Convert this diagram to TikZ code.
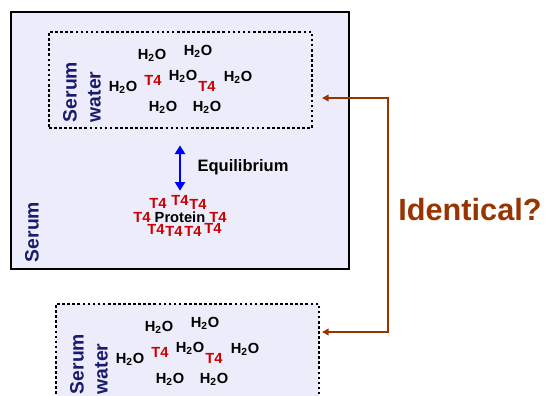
\documentclass[tikz,border=0pt]{standalone}
\usepackage{fontspec}
\setmainfont{Liberation Sans}
\usetikzlibrary{arrows.meta, fit, positioning}
\definecolor{serumfill}{RGB}{236,236,250}
\definecolor{navytxt}{RGB}{26,26,110}
\definecolor{tred}{RGB}{204,0,0}
\definecolor{eqblue}{RGB}{0,0,255}
\definecolor{idbrown}{RGB}{153,51,0}
\tikzset{
  % --- boxes -------------------------------------------------
  serumbox/.style={draw, line width=1.7pt, fill=serumfill, inner sep=0pt},
  poolbox/.style={draw, line width=2pt, dash pattern=on 2pt off 1.8pt,
    fill=serumfill, inner sep=0pt},
  % --- texts -------------------------------------------------
  sidelbl/.style={rotate=90, align=left, text=navytxt, inner sep=0pt,
    font=\fontsize{14.5}{18}\selectfont\bfseries},
  wat/.style={inner sep=0pt, font=\fontsize{11}{13}\selectfont\bfseries},
  tf/.style={inner sep=0pt, text=tred, font=\fontsize{11}{13}\selectfont\bfseries},
  eqlbl/.style={inner sep=0pt, font=\fontsize{12.4}{14}\selectfont\bfseries},
  idlbl/.style={inner sep=0pt, text=idbrown, font=\fontsize{23}{26}\selectfont\bfseries},
  % --- connectors --------------------------------------------
  eqarrow/.style={draw=eqblue, line width=2.2pt,
    {Triangle[width=7.5pt,length=6.5pt]}-{Triangle[width=7.5pt,length=6.5pt]}},
  idline/.style={draw=idbrown, line width=1.2pt,
    {Triangle[width=5pt,length=5pt]}-{Triangle[width=5pt,length=5pt]}}
}
% serum water pool, drawn twice
\newcommand\waterpool[1]{%
  \node[poolbox, fit={(49,32) (312,128)}] (#1) {};
  \node[sidelbl] (#1-lbl) at (82,92) {Serum\\water};
  \node[wat] (#1-w1) at (152,55) {H\textsubscript{2}O};
  \node[wat] (#1-w2) at (198,51) {H\textsubscript{2}O};
  \node[wat] (#1-w3) at (123,87) {H\textsubscript{2}O};
  \node[tf]  (#1-t1) at (153,80) {T4};
  \node[wat] (#1-w4) at (183,76) {H\textsubscript{2}O};
  \node[tf]  (#1-t2) at (207,86) {T4};
  \node[wat] (#1-w5) at (238,77) {H\textsubscript{2}O};
  \node[wat] (#1-w6) at (163,107) {H\textsubscript{2}O};
  \node[wat] (#1-w7) at (207,107) {H\textsubscript{2}O};
}
\begin{document}
\begin{tikzpicture}[x=0.75pt, y=-0.75pt]
  \useasboundingbox (0,0) rectangle (547,396);
  \clip (0,0) rectangle (547,396);

  % --- Serum ---------------------------------------------------
  \node[serumbox, fit={(11,12) (349,269)}] (serum) {};
  \node[sidelbl] (serumlbl) at (32,232) {Serum};

  % --- Serum water (in serum) ------------------------------------
  \waterpool{upwater}

  % --- Protein bound T4 ------------------------------------------
  \node[wat] (prot) at (180,217) {Protein};
  \node[tf] (pt1) at (158,203) {T4};
  \node[tf] (pt2) at (180,200) {T4};
  \node[tf] (pt3) at (198,204) {T4};
  \node[tf] (pt4) at (142,217) {T4};
  \node[tf] (pt5) at (218,217) {T4};
  \node[tf] (pt6) at (156,229) {T4};
  \node[tf] (pt7) at (174,231) {T4};
  \node[tf] (pt8) at (193,231) {T4};
  \node[tf] (pt9) at (213,228) {T4};

  \draw[eqarrow, shorten <=12pt, shorten >=3pt] (upwater.south -| pt2) -- (pt2.north);
  \node[eqlbl] (eq) at (243,167) {Equilibrium};

  % --- Serum water (separate) --------------------------------------
  \begin{scope}[shift={(7,272)}]
    \waterpool{lowwater}
  \end{scope}

  % --- Identical? ----------------------------------------------------
  \coordinate (askA) at (322,98);
  \coordinate (askB) at (322,332);
  \coordinate (turn) at (388,98);
  \draw[idline] (askA) -- (turn) |- (askB);
  \node[idlbl] (ident) at (470,210) {Identical?};

\end{tikzpicture}
\end{document}
